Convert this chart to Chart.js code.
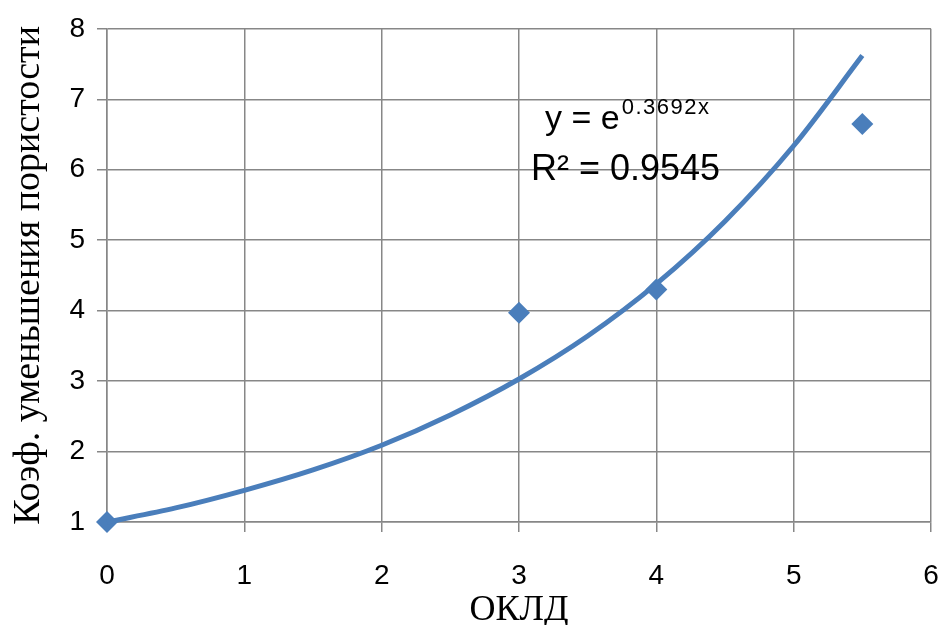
<!DOCTYPE html>
<html>
<head>
<meta charset="utf-8">
<script src="https://cdn.jsdelivr.net/npm/chart.js@4"></script>
<style>
  html, body { margin: 0; padding: 0; background: #fff; }
  #wrap { width: 942px; height: 625px; }
</style>
</head>
<body>
<div id="wrap"><canvas id="c"></canvas></div>
<script>
// measured points
const pointX = [0, 3, 4, 5.5];
const pointY = [1, 3.97, 4.3, 6.65];

// trend curve
const trendX = [0, 0.5, 1, 1.5, 2, 2.5, 3, 3.5, 4, 4.5, 5, 5.5];
const trendY = [1, 1.2, 1.45, 1.74, 2.09, 2.52, 3.03, 3.64, 4.38, 5.27, 6.34, 7.62];

const xTitle = "ОКЛД";
const yTitle = "Коэф. уменьшения пористости";
const eqBase = "y = e";
const eqPower = "0.3692x";
const r2Text = "R² = 0.9545";

const blue = "#4a7ebb";
const gridColor = "#878787";
const tickFont = { family: "'Liberation Sans', Arial, sans-serif", size: 28 };

const equationLabel = {
  id: "equationLabel",
  afterDatasetsDraw(chart) {
    const ctx = chart.ctx;
    ctx.save();
    ctx.fillStyle = "#000";
    ctx.textBaseline = "alphabetic";
    ctx.font = "34px 'Liberation Sans', Arial, sans-serif";
    ctx.fillText(eqBase, 545, 129);
    const w = ctx.measureText(eqBase).width;
    ctx.font = "22px 'Liberation Sans', Arial, sans-serif";
    ctx.letterSpacing = "1.5px";
    ctx.fillText(eqPower, 545 + w + 2, 114);
    ctx.letterSpacing = "0px";
    ctx.font = "36px 'Liberation Sans', Arial, sans-serif";
    ctx.fillText(r2Text, 531, 180);
    ctx.restore();
  }
};

new Chart(document.getElementById("c"), {
  type: "scatter",
  data: {
    datasets: [
      {
        label: "trend",
        data: trendX.map((x, i) => ({ x, y: trendY[i] })),
        showLine: true,
        borderColor: blue,
        borderWidth: 5,
        pointRadius: 0,
        tension: 0.4,
        cubicInterpolationMode: "monotone",
        clip: false
      },
      {
        label: "data",
        data: pointX.map((x, i) => ({ x, y: pointY[i] })),
        pointStyle: "rectRot",
        pointRadius: 11,
        backgroundColor: blue,
        borderColor: blue,
        borderWidth: 0,
        clip: false
      }
    ]
  },
  options: {
    responsive: true,
    maintainAspectRatio: false,
    animation: false,
    layout: { padding: { top: 27, right: 10, left: 0, bottom: 0 } },
    plugins: { legend: { display: false }, tooltip: { enabled: false } },
    scales: {
      x: {
        type: "linear",
        min: 0,
        max: 6,
        ticks: { stepSize: 1, color: "#000", font: tickFont, padding: 27 },
        grid: { color: gridColor, lineWidth: 1.5, tickLength: 10 },
        border: { color: gridColor, width: 1.5 },
        title: {
          display: true,
          text: xTitle,
          color: "#000",
          font: { family: "'Liberation Serif', 'Times New Roman', serif", size: 36 },
          padding: { top: 0, bottom: -7 }
        },
        afterFit(scale) {
          scale.height = 103;
          scale.paddingLeft = 0;
          scale.paddingRight = 0;
        }
      },
      y: {
        min: 1,
        max: 8,
        ticks: { stepSize: 1, color: "#000", font: tickFont, padding: 12 },
        grid: { color: gridColor, lineWidth: 1.5, tickLength: 10 },
        border: { color: gridColor, width: 1.5 },
        title: {
          display: true,
          text: yTitle,
          color: "#000",
          font: { family: "'Liberation Serif', 'Times New Roman', serif", size: 38 },
          padding: { top: 6, bottom: 0 }
        },
        afterFit(scale) { scale.width = 107; }
      }
    }
  },
  plugins: [equationLabel]
});
</script>
</body>
</html>
